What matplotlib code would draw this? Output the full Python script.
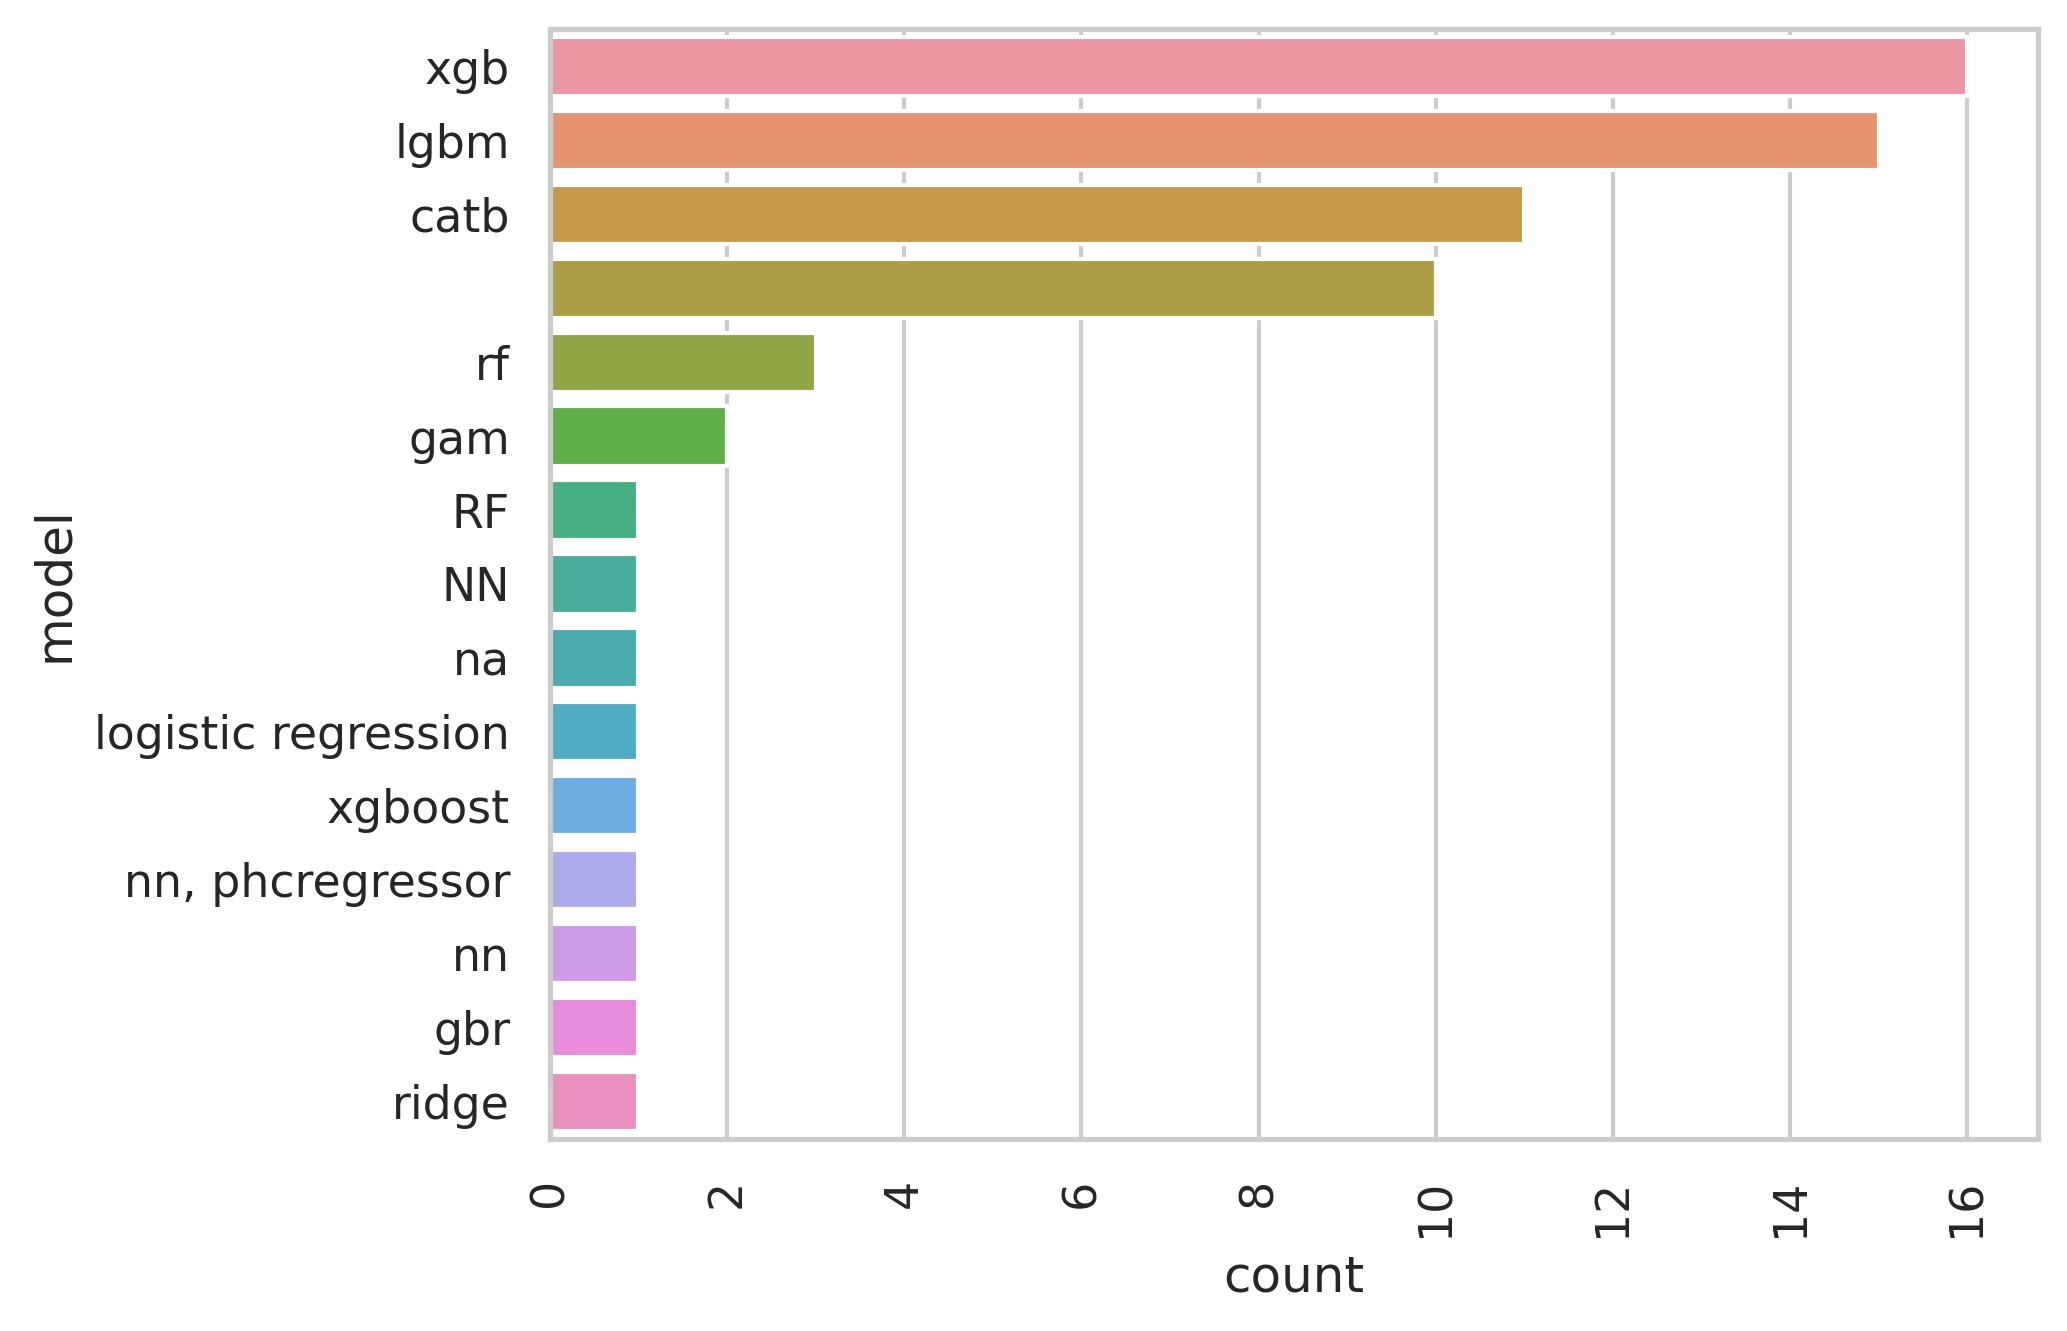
import matplotlib
matplotlib.use("Agg")
import matplotlib.pyplot as plt
import seaborn as sns
import pandas as pd

models = ["xgb", "lgbm", "catb", " ", "rf", "gam", "RF", "NN", "na",
          "logistic regression", "xgboost", "nn, phcregressor", "nn", "gbr", "ridge"]
counts = [16, 15, 11, 10, 3, 2, 1, 1, 1, 1, 1, 1, 1, 1, 1]

sns.set_theme(style="whitegrid")
plt.rcParams['font.family'] = ['DejaVu Sans']

rows = []
for m, c in zip(models, counts):
    rows += [m] * c
df = pd.DataFrame({"model": rows})

fig = plt.figure(figsize=(2067 / 300, 1331 / 300), dpi=300)
ax = fig.add_axes([0.266, 0.1445, 0.72, 0.8335])
palette = [sns.desaturate(c, 0.75) for c in sns.husl_palette(len(models), l=0.70)]
sns.countplot(data=df, y="model", order=models, hue="model", hue_order=models,
              palette=palette, saturation=1, legend=False, ax=ax)
ax.tick_params(axis="x", rotation=90)
ax.set_xlabel("count")
ax.set_ylabel("model")
fig.savefig("out.png", dpi=300)
